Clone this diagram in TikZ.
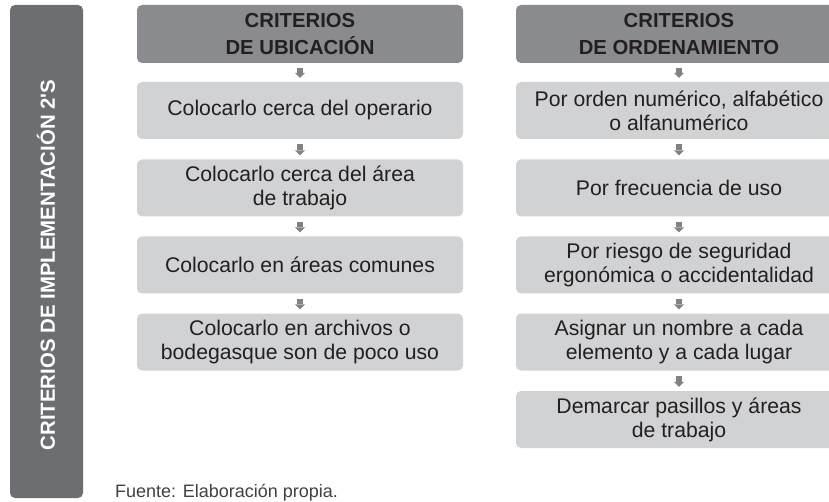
\documentclass[tikz,border=0pt]{standalone}
\usepackage{fontspec}
\setmainfont{Liberation Sans}
\usetikzlibrary{arrows.meta}
\definecolor{barc}{HTML}{6D6E71}
\definecolor{headc}{HTML}{8A8B8E}
\definecolor{boxc}{HTML}{D1D2D4}
\definecolor{txtc}{HTML}{231F20}
\definecolor{arrc}{HTML}{808285}
\definecolor{srcc}{HTML}{414042}
\begin{document}
\begin{tikzpicture}[x=1pt,y=-1pt,
  headbox/.style={fill=headc, rounded corners=5pt, minimum width=326pt, minimum height=58pt,
    inner sep=0pt, align=center, font=\fontsize{20.3}{27}\selectfont\bfseries, text=txtc},
  itembox/.style={fill=boxc, rounded corners=5pt, minimum width=326pt, minimum height=57pt,
    inner sep=0pt, align=center, font=\fontsize{21.2}{24}\selectfont, text=txtc},
  flow/.style={draw=arrc, line width=6pt, shorten <=5pt, shorten >=4pt,
    -{Triangle[width=10pt,length=5pt,line width=0pt,fill=arrc]}}]
\clip (0,0) rectangle (829,502);
\useasboundingbox (0,0) rectangle (829,502);
% left bar
\node[fill=barc, rounded corners=5pt, minimum width=73pt, minimum height=493pt, inner sep=0pt] (bar) at (46.5,251.5) {};
\node[rotate=90, text=white, font=\fontsize{20.4}{24}\selectfont\bfseries, inner sep=0pt] (bartxt) at (46,265) {CRITERIOS DE IMPLEMENTACIÓN 2\textquotesingle S};
% left column
\node[headbox] (lh) at (300,34) {CRITERIOS\\DE UBICACIÓN};
\node[itembox] (l1) at (300,110.5) {Colocarlo cerca del operario};
\node[itembox] (l2) at (300,188) {Colocarlo cerca del área\\de trabajo};
\node[itembox] (l3) at (300,265) {Colocarlo en áreas comunes};
\node[itembox] (l4) at (300,342) {Colocarlo en archivos o\\bodegasque son de poco uso};
% right column
\node[headbox] (rh) at (679,34) {CRITERIOS\\DE ORDENAMIENTO};
\node[itembox] (r1) at (679,110.5) {Por orden numérico, alfabético\\o alfanumérico};
\node[itembox] (r2) at (679,188) {Por frecuencia de uso};
\node[itembox] (r3) at (679,265) {Por riesgo de seguridad\\ergonómica o accidentalidad};
\node[itembox] (r4) at (679,342) {Asignar un nombre a cada\\elemento y a cada lugar};
\node[itembox] (r5) at (679,419.5) {Demarcar pasillos y áreas\\de trabajo};
% arrows
\draw[flow] (lh.south) -- (l1.north);
\draw[flow] (l1.south) -- (l2.north);
\draw[flow] (l2.south) -- (l3.north);
\draw[flow] (l3.south) -- (l4.north);
\draw[flow] (rh.south) -- (r1.north);
\draw[flow] (r1.south) -- (r2.north);
\draw[flow] (r2.south) -- (r3.north);
\draw[flow] (r3.south) -- (r4.north);
\draw[flow] (r4.south) -- (r5.north);
% source
\node[anchor=base west, inner sep=0pt, text=srcc, font=\fontsize{18}{20}\selectfont] (src) at (115,497) {Fuente: Elaboración propia.};
\end{tikzpicture}
\end{document}
